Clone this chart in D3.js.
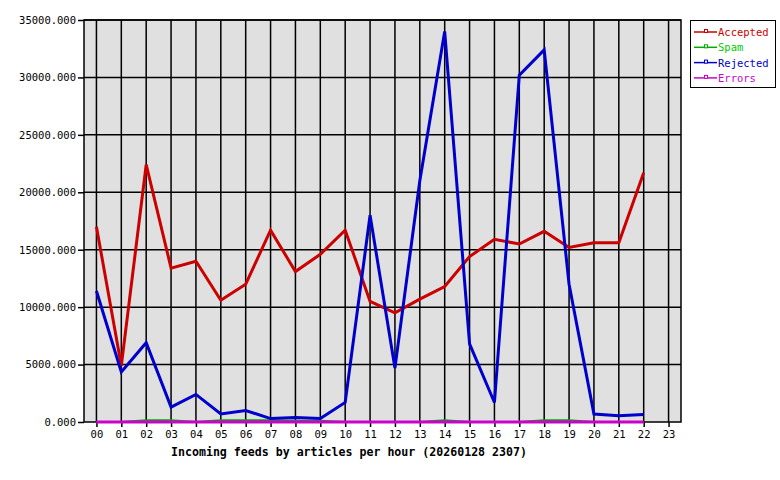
<!DOCTYPE html>
<html><head><meta charset="utf-8">
<script src="https://cdn.jsdelivr.net/npm/d3@7"></script>
<style>body{margin:0;background:#fff}svg{display:block}text{font-family:"DejaVu Sans Mono",monospace}</style>
</head><body><svg id="c" width="780" height="480"></svg>
<script>
const hours = ["00","01","02","03","04","05","06","07","08","09","10","11","12","13","14","15","16","17","18","19","20","21","22","23"];
const accepted = [17000,4900,22400,13400,14000,10600,12000,16700,13100,14600,16700,10500,9500,10700,11800,14400,15900,15500,16600,15200,15600,15600,21700];
const spam     = [0,0,150,150,0,150,150,150,100,100,0,0,0,0,150,0,0,0,150,150,0,0,0];
const rejected = [11400,4350,6900,1300,2400,700,1000,300,400,300,1700,18000,4700,21000,34000,6800,1700,30200,32400,12000,700,550,650];
const errors   = [0,0,0,0,0,0,0,0,0,0,0,0,0,0,0,0,0,0,0,0,0,0,0];
const yTicks = [0,5000,10000,15000,20000,25000,30000,35000];
const seriesNames = ["Accepted","Spam","Rejected","Errors"];
const title = "Incoming feeds by articles per hour (20260128 2307)";

const colors = {Accepted:"#cc0000",Spam:"#00aa00",Rejected:"#0000cc",Errors:"#cc00cc"};
const textColors = {Accepted:"#cc0000",Spam:"#00cc00",Rejected:"#0000cc",Errors:"#cc00cc"};
const widths = {Accepted:3,Spam:2,Rejected:3,Errors:3};
const data = {Accepted:accepted,Spam:spam,Rejected:rejected,Errors:errors};

const L=84,R=681,T=20,B=422;
const svg=d3.select("#c");
const x=d3.scalePoint().domain(hours).range([L,R]).padding(0.5);
const y=d3.scaleLinear().domain([0,35000]).range([B,T]);

svg.append("rect").attr("x",L).attr("y",T).attr("width",R-L).attr("height",B-T).attr("fill","#e0e0e0");

// grid
svg.append("g").selectAll("line").data(yTicks.filter(d=>d>0)).join("line")
  .attr("x1",L).attr("x2",R).attr("y1",d=>y(d)).attr("y2",d=>y(d))
  .attr("stroke","#000").attr("stroke-width",1.5);
svg.append("g").selectAll("line").data(hours).join("line")
  .attr("x1",d=>x(d)).attr("x2",d=>x(d)).attr("y1",T).attr("y2",B)
  .attr("stroke","#000").attr("stroke-width",1.5);

// axes
const yAxis=d3.axisLeft(y).tickValues(yTicks).tickFormat(d3.format(".3f")).tickSize(6).tickPadding(2);
const gy=svg.append("g").attr("transform",`translate(${L},0)`).call(yAxis);
const xAxis=d3.axisBottom(x).tickSize(5).tickPadding(4);
const gx=svg.append("g").attr("transform",`translate(0,${B})`).call(xAxis);
[gy,gx].forEach(g=>{
  g.select(".domain").remove();
  g.selectAll("line").attr("stroke","#000").attr("stroke-width",1.5);
  g.selectAll("text").attr("font-size",10.5).attr("fill","#000").attr("font-family","DejaVu Sans Mono, monospace");
});

// frame
svg.append("rect").attr("x",L).attr("y",T).attr("width",R-L).attr("height",B-T)
  .attr("fill","none").attr("stroke","#000").attr("stroke-width",1.5);

// lines
const line=d3.line().x((d,i)=>x(hours[i])).y(d=>y(d));
seriesNames.forEach(n=>{
  svg.append("path").datum(data[n]).attr("d",line).attr("fill","none")
    .attr("stroke",colors[n]).attr("stroke-width",widths[n]).attr("stroke-linejoin","miter");
});

// title
svg.append("text").attr("x",349).attr("y",456).attr("text-anchor","middle")
  .attr("font-size",11.6).attr("font-weight","bold").attr("fill","#000").text(title);

// legend
const lg=svg.append("g");
lg.append("rect").attr("x",690.5).attr("y",20.5).attr("width",85).attr("height",67)
  .attr("fill","#fff").attr("stroke","#000").attr("stroke-width",1);
seriesNames.forEach((n,i)=>{
  const yy=32+i*15.3;
  lg.append("line").attr("x1",694).attr("x2",717).attr("y1",yy).attr("y2",yy)
    .attr("stroke",colors[n]).attr("stroke-width",1.5);
  lg.append("rect").attr("x",704.5).attr("y",yy-2.5).attr("width",3).attr("height",3)
    .attr("fill","#fff").attr("stroke",colors[n]).attr("stroke-width",1);
  lg.append("text").attr("x",718).attr("y",yy+4).attr("font-size",10.5)
    .attr("fill",textColors[n]).text(n);
});
</script></body></html>
